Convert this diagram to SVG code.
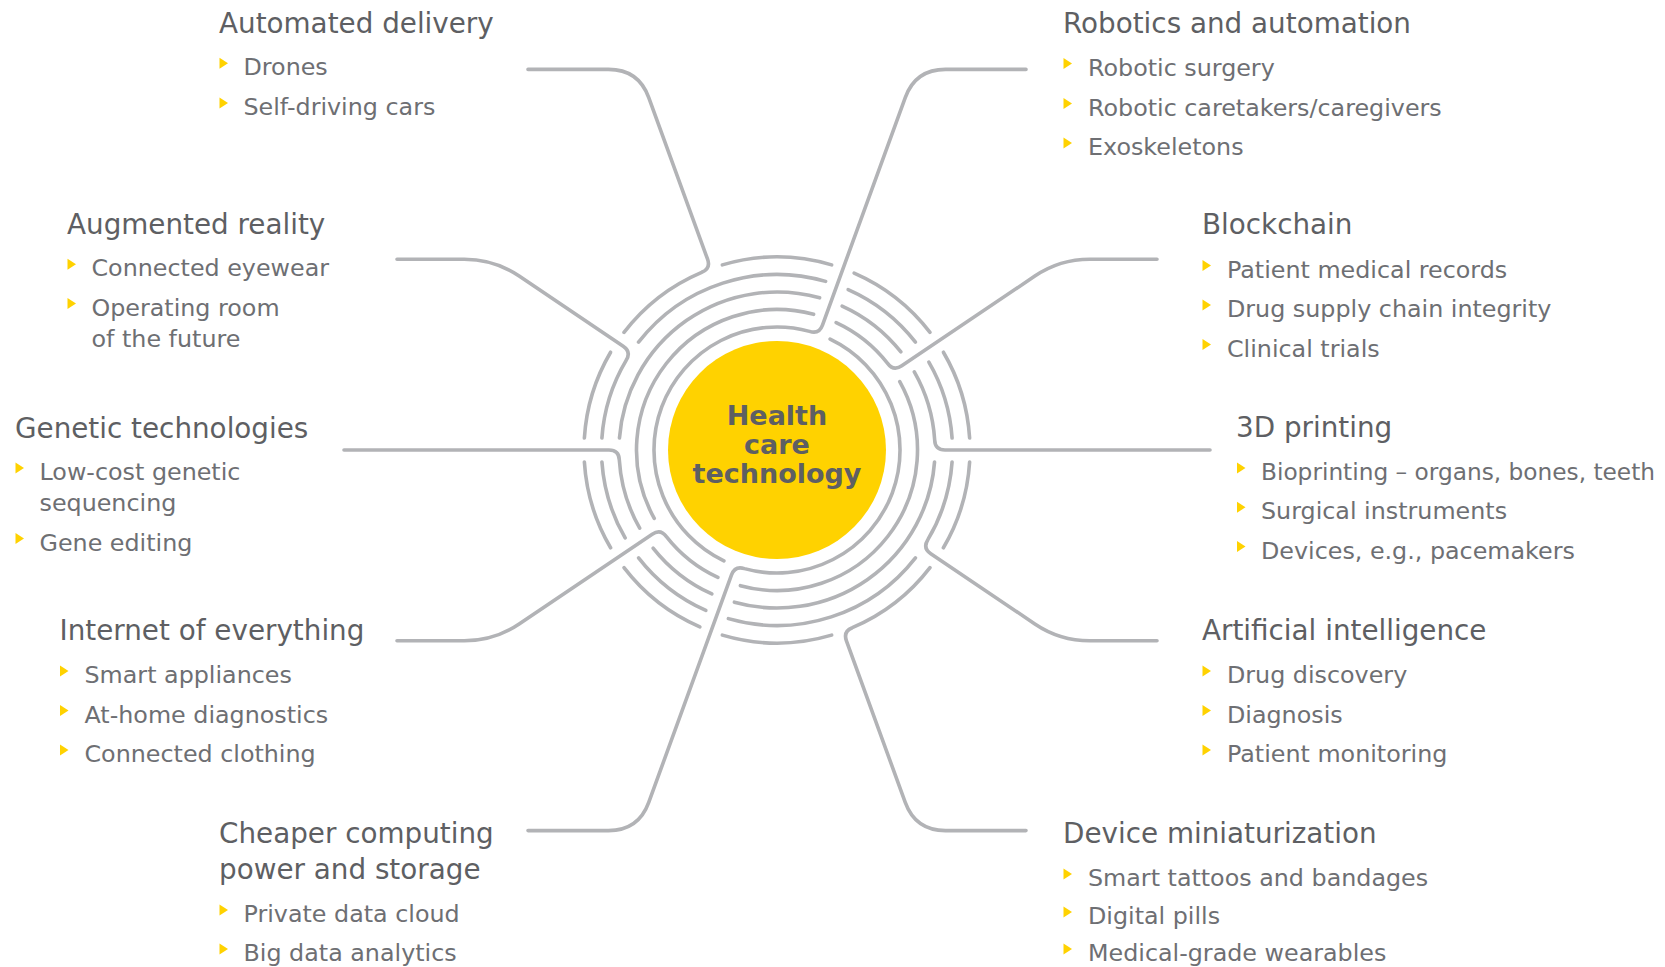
<svg xmlns="http://www.w3.org/2000/svg" width="1665" height="967" viewBox="0 0 1665 967">
<style>
.ln{fill:none;stroke:#b2b3b6;stroke-width:3.6;stroke-linecap:round;stroke-linejoin:round}
.hd{font-family:"DejaVu Sans","Liberation Sans",sans-serif;font-size:27.8px;fill:#5e5f63}
.it{font-family:"DejaVu Sans","Liberation Sans",sans-serif;font-size:23.8px;fill:#6e6f73}
.ct{font-family:"DejaVu Sans","Liberation Sans",sans-serif;font-size:27px;font-weight:bold;fill:#5e5f63;text-anchor:middle}
</style>
<defs><path id="b" d="M0 0L8.5 5.5L0 11Z" fill="#ffd200"/></defs>
<rect width="1665" height="967" fill="#ffffff"/>

<g id="hub">
<circle cx="777" cy="450" r="109" fill="#ffd200"/>
<g id="rings" class="ln">
<path d="M740.39 585.65A140.5 140.5 0 0 0 899.76 381.67"/>
<path d="M813.61 314.35A140.5 140.5 0 0 0 654.24 518.33"/>
<path d="M653.09 548.04A158 158 0 0 0 711.85 593.95"/>
<path d="M900.91 351.96A158 158 0 0 0 842.15 306.05"/>
<path d="M734.38 602.15A158 158 0 0 0 934.54 461.99"/>
<path d="M819.62 297.85A158 158 0 0 0 619.46 438.01"/>
<path d="M601.91 461.99A175.5 175.5 0 0 0 625.14 537.97"/>
<path d="M952.09 438.01A175.5 175.5 0 0 0 928.86 362.03"/>
<path d="M638.55 557.85A175.5 175.5 0 0 0 705.85 610.43"/>
<path d="M915.45 342.15A175.5 175.5 0 0 0 848.15 289.57"/>
<path d="M728.38 618.63A175.5 175.5 0 0 0 915.45 557.85"/>
<path d="M825.62 281.37A175.5 175.5 0 0 0 638.55 342.15"/>
<path d="M584.37 461.99A193 193 0 0 0 610.59 547.78"/>
<path d="M969.63 438.01A193 193 0 0 0 943.41 352.22"/>
<path d="M624 567.66A193 193 0 0 0 699.85 626.92"/>
<path d="M930 332.34A193 193 0 0 0 854.15 273.08"/>
<path d="M722.38 635.12A193 193 0 0 0 831.62 635.12"/>
<path d="M831.62 264.88A193 193 0 0 0 722.38 264.88"/>
<path d="M943.41 547.78A193 193 0 0 0 969.63 461.99"/>
<path d="M610.59 352.22A193 193 0 0 0 584.37 438.01"/>
</g>
<text class="ct" x="777" y="425">Health</text>
<text class="ct" x="777" y="454">care</text>
<text class="ct" x="777" y="483">technology</text>
</g>

<g id="connectors" class="ln">
<path id="c-automated" d="M528 69.4L608.5 69.4Q638.5 69.4 648.76 97.59L707.57 259.24Q710.99 268.64 701.68 272.3A193 193 0 0 0 624.02 332.33"/>
<path id="c-robotics" d="M1026 69.4L945.52 69.4Q915.52 69.4 905.26 97.59L822.49 325.02Q819.07 334.42 809.54 331.38A123 123 0 0 0 723.88 560.94"/>
<path id="c-ar" d="M397 259.3L464.27 259.3Q494.27 259.3 519.14 276.08L623.21 346.27Q631.5 351.86 626.16 360.3A175.5 175.5 0 0 0 601.91 438.01"/>
<path id="c-blockchain" d="M1157 259.3L1089.73 259.3Q1059.73 259.3 1034.86 276.08L901.77 365.84Q893.48 371.43 887.6 363.35A140.5 140.5 0 0 0 836.15 322.56"/>
<path id="c-genetic" d="M344 450L609 450Q619 450 619.32 459.99A158 158 0 0 0 639.68 528.15"/>
<path id="c-3d" d="M1210 450L945 450Q935 450 934.68 440.01A158 158 0 0 0 914.32 371.85"/>
<path id="c-iot" d="M397 640.7L464.27 640.7Q494.27 640.7 519.14 623.92L652.23 534.16Q660.52 528.57 666.4 536.65A140.5 140.5 0 0 0 717.85 577.44"/>
<path id="c-ai" d="M1157 640.7L1089.73 640.7Q1059.73 640.7 1034.86 623.92L930.79 553.73Q922.5 548.14 927.84 539.7A175.5 175.5 0 0 0 952.09 461.99"/>
<path id="c-computing" d="M528 830.6L608.48 830.6Q638.48 830.6 648.74 802.41L731.51 574.98Q734.93 565.58 744.46 568.62A123 123 0 0 0 830.12 339.06"/>
<path id="c-mini" d="M1026 830.6L945.5 830.6Q915.5 830.6 905.24 802.41L846.43 640.76Q843.01 631.36 852.32 627.7A193 193 0 0 0 929.98 567.67"/>
</g>

<g id="node-automated-delivery">
<text class="hd" x="219" y="32.7">Automated delivery</text>
<use href="#b" x="219.5" y="57.7"/><text class="it" x="243.5" y="75.2">Drones</text>
<use href="#b" x="219.5" y="97.5"/><text class="it" x="243.5" y="115">Self-driving cars</text>
</g>
<g id="node-augmented-reality">
<text class="hd" x="67" y="233.8">Augmented reality</text>
<use href="#b" x="67.5" y="258.8"/><text class="it" x="91.5" y="276.3">Connected eyewear</text>
<use href="#b" x="67.5" y="298"/><text class="it" x="91.5" y="315.5">Operating room</text>
<text class="it" x="91.5" y="347">of the future</text>
</g>
<g id="node-genetic-technologies">
<text class="hd" x="15" y="437.5">Genetic technologies</text>
<use href="#b" x="15.5" y="462.5"/><text class="it" x="39.5" y="480">Low-cost genetic</text>
<text class="it" x="39.5" y="511">sequencing</text>
<use href="#b" x="15.5" y="533"/><text class="it" x="39.5" y="550.5">Gene editing</text>
</g>
<g id="node-internet-of-everything">
<text class="hd" x="59.5" y="640.2">Internet of everything</text>
<use href="#b" x="60" y="665.5"/><text class="it" x="84.5" y="683">Smart appliances</text>
<use href="#b" x="60" y="705"/><text class="it" x="84.5" y="722.5">At-home diagnostics</text>
<use href="#b" x="60" y="744.5"/><text class="it" x="84.5" y="762">Connected clothing</text>
</g>
<g id="node-cheaper-computing">
<text class="hd" x="219" y="843">Cheaper computing</text>
<text class="hd" x="219" y="878.5">power and storage</text>
<use href="#b" x="219.5" y="904.5"/><text class="it" x="243.5" y="922">Private data cloud</text>
<use href="#b" x="219.5" y="943.5"/><text class="it" x="243.5" y="961">Big data analytics</text>
</g>
<g id="node-robotics">
<text class="hd" x="1063" y="32.7">Robotics and automation</text>
<use href="#b" x="1063.5" y="58"/><text class="it" x="1088" y="75.5">Robotic surgery</text>
<use href="#b" x="1063.5" y="98"/><text class="it" x="1088" y="115.5">Robotic caretakers/caregivers</text>
<use href="#b" x="1063.5" y="137.5"/><text class="it" x="1088" y="155">Exoskeletons</text>
</g>
<g id="node-blockchain">
<text class="hd" x="1202" y="234">Blockchain</text>
<use href="#b" x="1202.5" y="260"/><text class="it" x="1227" y="277.5">Patient medical records</text>
<use href="#b" x="1202.5" y="299.5"/><text class="it" x="1227" y="317">Drug supply chain integrity</text>
<use href="#b" x="1202.5" y="339"/><text class="it" x="1227" y="356.5">Clinical trials</text>
</g>
<g id="node-3d-printing">
<text class="hd" x="1236" y="437.3">3D printing</text>
<use href="#b" x="1237" y="462.5"/><text class="it" x="1261" y="480" textLength="394" lengthAdjust="spacingAndGlyphs">Bioprinting – organs, bones, teeth</text>
<use href="#b" x="1237" y="501.8"/><text class="it" x="1261" y="519.3">Surgical instruments</text>
<use href="#b" x="1237" y="541"/><text class="it" x="1261" y="558.5">Devices, e.g., pacemakers</text>
</g>
<g id="node-artificial-intelligence">
<text class="hd" x="1202" y="640.2">Artificial intelligence</text>
<use href="#b" x="1202.5" y="665.5"/><text class="it" x="1227" y="683">Drug discovery</text>
<use href="#b" x="1202.5" y="705"/><text class="it" x="1227" y="722.5">Diagnosis</text>
<use href="#b" x="1202.5" y="744.5"/><text class="it" x="1227" y="762">Patient monitoring</text>
</g>
<g id="node-device-miniaturization">
<text class="hd" x="1063" y="843">Device miniaturization</text>
<use href="#b" x="1063.5" y="868.5"/><text class="it" x="1088" y="885.5">Smart tattoos and bandages</text>
<use href="#b" x="1063.5" y="906.5"/><text class="it" x="1088" y="924">Digital pills</text>
<use href="#b" x="1063.5" y="943.5"/><text class="it" x="1088" y="961">Medical-grade wearables</text>
</g>
</svg>
